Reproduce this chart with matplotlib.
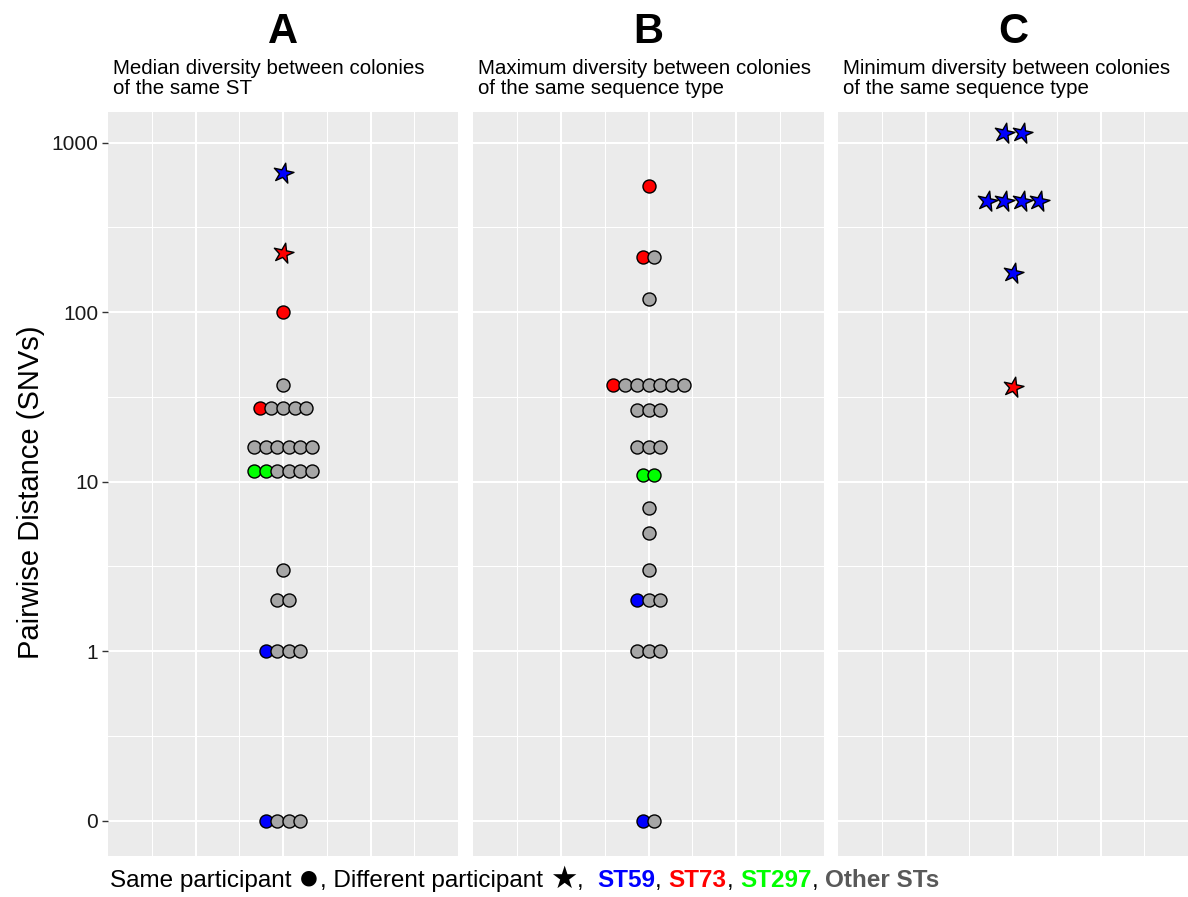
import matplotlib
matplotlib.use("Agg")
import matplotlib.pyplot as plt
import numpy as np
from matplotlib.ticker import FixedLocator, NullFormatter
from matplotlib.markers import MarkerStyle
from matplotlib.transforms import Affine2D

plt.rcParams['font.family'] = ['Liberation Sans', 'DejaVu Sans']

# ---------------- data ----------------
panel_letters = ["A", "B", "C"]
panel_subtitles = [
    "Median diversity between colonies\nof the same ST",
    "Maximum diversity between colonies\nof the same sequence type",
    "Minimum diversity between colonies\nof the same sequence type",
]

a_snvs = [660, 223, 100, 37,
          27, 27, 27, 27, 27,
          16, 16, 16, 16, 16, 16,
          11.5, 11.5, 11.5, 11.5, 11.5, 11.5,
          3, 2, 2,
          1, 1, 1, 1,
          0, 0, 0, 0]
a_st = ["ST59", "ST73", "ST73", "Other",
        "ST73", "Other", "Other", "Other", "Other",
        "Other", "Other", "Other", "Other", "Other", "Other",
        "ST297", "ST297", "Other", "Other", "Other", "Other",
        "Other", "Other", "Other",
        "ST59", "Other", "Other", "Other",
        "ST59", "Other", "Other", "Other"]
a_participant = ["different", "different"] + ["same"] * 30

b_snvs = [554, 211, 211, 119,
          37, 37, 37, 37, 37, 37, 37,
          26.5, 26.5, 26.5,
          16, 16, 16,
          11, 11, 7, 5, 3,
          2, 2, 2,
          1, 1, 1,
          0, 0]
b_st = ["ST73", "ST73", "Other", "Other",
        "ST73", "Other", "Other", "Other", "Other", "Other", "Other",
        "Other", "Other", "Other",
        "Other", "Other", "Other",
        "ST297", "ST297", "Other", "Other", "Other",
        "ST59", "Other", "Other",
        "Other", "Other", "Other",
        "ST59", "Other"]
b_participant = ["same"] * 30

c_snvs = [1140, 1140, 452, 452, 452, 452, 170, 36]
c_st = ["ST59"] * 7 + ["ST73"]
c_participant = ["different"] * 8

st_colors = {"ST59": "#0000FF", "ST73": "#FF0000", "ST297": "#00FF00", "Other": "#A6A6A6"}

y_ticks = [0, 1, 10, 100, 1000]
y_ticklabels = ["0", "1", "10", "100", "1000"]

panels = [(a_snvs, a_st, a_participant),
          (b_snvs, b_st, b_participant),
          (c_snvs, c_st, c_participant)]


# ---------------- scale: linear 0-1, log above ----------------
def fwd(x):
    x = np.asarray(x, dtype=float)
    return np.where(x < 1, x - 1, np.log10(np.maximum(x, 1)))


def inv(t):
    t = np.asarray(t, dtype=float)
    return np.where(t < 0, t + 1, 10 ** np.maximum(t, 0))


W, H = 1188, 897
fig = plt.figure(figsize=(W / 100, H / 100), dpi=100)

panel_left_px = [108, 473, 838]
panel_w_px = [350, 351, 350]
top_px, bottom_px = 112, 856

star_marker = MarkerStyle("*", transform=Affine2D().rotate_deg(-12))

axes = []
for i, (vals, sts, parts) in enumerate(panels):
    ax = fig.add_axes([panel_left_px[i] / W, 1 - bottom_px / H,
                       panel_w_px[i] / W, (bottom_px - top_px) / H])
    axes.append(ax)
    ax.set_facecolor("#EBEBEB")
    for s in ax.spines.values():
        s.set_visible(False)
    ax.set_yscale("function", functions=(fwd, inv))
    ax.set_ylim(float(inv(-1.209)), float(inv(3.18)))
    ax.set_xlim(-2, 2)
    ax.yaxis.set_major_locator(FixedLocator(y_ticks))
    ax.yaxis.set_minor_locator(FixedLocator([0.5, 10 ** 0.5, 10 ** 1.5, 10 ** 2.5]))
    ax.xaxis.set_major_locator(FixedLocator([-1, 0, 1]))
    ax.xaxis.set_minor_locator(FixedLocator([-1.5, -0.5, 0.5, 1.5]))
    ax.xaxis.set_major_formatter(NullFormatter())
    ax.yaxis.set_minor_formatter(NullFormatter())
    ax.grid(which="major", color="white", lw=1.5)
    ax.grid(which="minor", color="white", lw=0.75)
    ax.set_axisbelow(True)
    ax.tick_params(axis="x", which="both", length=0)
    ax.tick_params(axis="y", which="minor", length=0)
    if i == 0:
        ax.set_yticklabels(y_ticklabels)
        ax.tick_params(axis="y", which="major", length=4, width=1, color="#333333",
                       labelsize=15, labelcolor="#1A1A1A", pad=3)
    else:
        ax.yaxis.set_major_formatter(NullFormatter())
        ax.tick_params(axis="y", which="major", length=0)

    # centred dot stacking per distinct value
    vals = np.asarray(vals, dtype=float)
    for v in list(dict.fromkeys(vals.tolist())):
        idx = [k for k in range(len(vals)) if vals[k] == v]
        n = len(idx)
        for j, k in enumerate(idx):
            if parts[k] == "same":
                spacing = 0.133
                xx = (j - (n - 1) / 2) * spacing
                ax.scatter([xx], [vals[k]], s=88, marker="o", c=st_colors[sts[k]],
                           edgecolors="black", linewidths=1.0, zorder=3, clip_on=False)
            else:
                spacing = 0.198
                xx = (j - (n - 1) / 2) * spacing
                ax.scatter([xx], [vals[k]], s=230, marker=star_marker, c=st_colors[sts[k]],
                           edgecolors="black", linewidths=1.0, zorder=3, clip_on=False)

    # titles
    cx = (panel_left_px[i] + panel_w_px[i] / 2) / W
    fig.text(cx, 1 - 43 / H, panel_letters[i], ha="center", va="baseline",
             fontsize=30, fontweight="bold")
    fig.text((panel_left_px[i] + 5) / W, 1 - 94 / H, panel_subtitles[i], ha="left",
             va="baseline", fontsize=14.8, linespacing=1.07, color="black")

fig.text(31 / W, 1 - 492 / H, "Pairwise Distance (SNVs)", rotation=90, ha="center",
         va="center", fontsize=21)

# caption
fs_cap = 17.5
baseline_y = 1 - 887 / H
pieces = [("Same participant ", "black", "normal", fs_cap, "baseline", baseline_y),
          ("\u25CF", "black", "normal", 26, "center", 1 - 879 / H),
          (", Different participant ", "black", "normal", fs_cap, "baseline", baseline_y),
          ("\u2605", "black", "normal", 22, "center", 1 - 880 / H),
          (",  ", "black", "normal", fs_cap, "baseline", baseline_y),
          ("ST59", "#0000FF", "bold", fs_cap, "baseline", baseline_y),
          (", ", "black", "normal", fs_cap, "baseline", baseline_y),
          ("ST73", "#FF0000", "bold", fs_cap, "baseline", baseline_y),
          (", ", "black", "normal", fs_cap, "baseline", baseline_y),
          ("ST297", "#00FF00", "bold", fs_cap, "baseline", baseline_y),
          (", ", "black", "normal", fs_cap, "baseline", baseline_y),
          ("Other STs", "#595959", "bold", fs_cap, "baseline", baseline_y)]
s0, c0, w0, f0, va0, y0 = pieces[0]
t = fig.text(110 / W, y0, s0, color=c0, fontweight=w0, fontsize=f0, va=va0, ha="left")
for s, col, wt, fs, va, yy in pieces[1:]:
    t = axes[0].annotate(s, xycoords=(t, "figure fraction"), xy=(1, yy), va=va, ha="left",
                         color=col, fontweight=wt, fontsize=fs, annotation_clip=False)

fig.savefig("out.png", dpi=100)
